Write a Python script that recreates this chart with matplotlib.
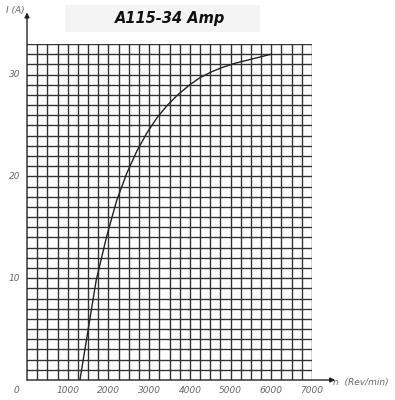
import matplotlib
matplotlib.use("Agg")
import matplotlib.pyplot as plt
from matplotlib.patches import Rectangle
import numpy as np

# curve (speed in rev/min, current in A)
speed = [1300, 1500, 1700, 1950, 2200, 2450, 2700, 2950, 3200, 3450, 3700,
         4000, 4250, 4550, 4800, 5100, 5400, 5700, 6000]
current = [0, 4.9, 9.8, 14.0, 17.6, 20.3, 22.5, 24.3, 25.8, 27.0, 28.0,
           29.0, 29.7, 30.3, 30.7, 31.1, 31.4, 31.7, 32.0]

x_ticks = [0, 1000, 2000, 3000, 4000, 5000, 6000, 7000]
y_ticks = [10, 20, 30]
x_max, y_max = 7000, 33
title = "A115-34 Amp"

fig = plt.figure(figsize=(3.95, 4.0), dpi=100)
ax = fig.add_axes([27 / 395, 20 / 400, 285 / 395, 336 / 400])
ax.set_xlim(0, x_max)
ax.set_ylim(0, y_max)
ax.axis("off")

grid_kw = dict(color="#333333", linewidth=1.0, zorder=1)
for xv in np.arange(250, x_max + 1, 250):
    ax.axvline(xv, **grid_kw)
for yv in np.arange(1, y_max + 1, 1):
    ax.axhline(yv, **grid_kw)

# axes with arrow heads
ax.annotate("", xy=(0, 36.1), xytext=(0, 0), annotation_clip=False,
            arrowprops=dict(arrowstyle="-|>", color="#222", lw=1.0,
                            mutation_scale=7, shrinkA=0, shrinkB=0))
ax.annotate("", xy=(7570, 0), xytext=(0, 0), annotation_clip=False,
            arrowprops=dict(arrowstyle="-|>", color="#222", lw=1.0,
                            mutation_scale=7, shrinkA=0, shrinkB=0))

ax.plot(speed, current, color="#222", linewidth=1.0, zorder=3)

lab_kw = dict(fontsize=6.5, style="italic", color="#666")
for xv in x_ticks:
    ax.text(xv - (250 if xv == 0 else 0), -1.0, str(xv), ha="center", va="center",
            clip_on=False, **lab_kw)
for yv in y_ticks:
    ax.text(-300, yv, str(yv), ha="center", va="center", clip_on=False, **lab_kw)

fig.text(15 / 395, 1 - 11 / 400, "I (A)", ha="center", va="center", **lab_kw)
fig.text(361 / 395, 1 - 383 / 400, "n  (Rev/min)", ha="center", va="center", **lab_kw)

fig.patches.append(Rectangle((65 / 395, 1 - 32 / 400), 195 / 395, 27 / 400,
                             transform=fig.transFigure, facecolor="#f3f4f3",
                             edgecolor="none", zorder=0))
fig.text(170 / 395, 1 - 19 / 400, title, ha="center", va="center",
         fontsize=10.5, fontweight="bold", style="italic", color="#111")

fig.savefig("out.png", dpi=100)
